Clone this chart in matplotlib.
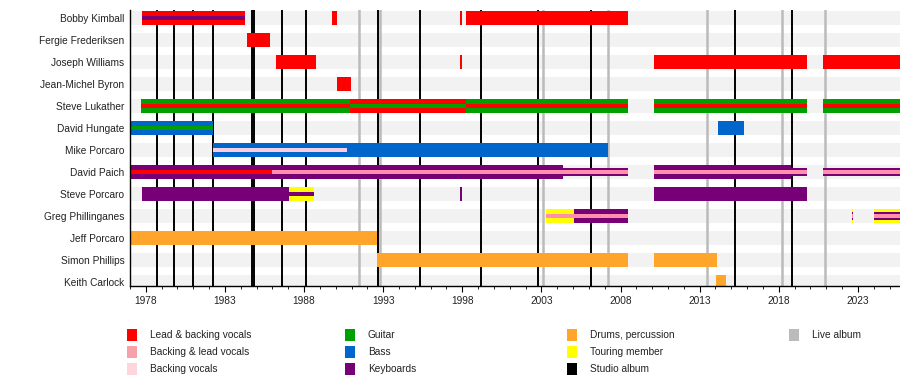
import matplotlib
matplotlib.use("Agg")
import matplotlib.pyplot as plt
from matplotlib.patches import Rectangle
from matplotlib.ticker import MultipleLocator

plt.rcParams['font.family'] = ['Liberation Sans', 'DejaVu Sans']

# band members, top to bottom
members = ["Bobby Kimball", "Fergie Frederiksen", "Joseph Williams", "Jean-Michel Byron",
           "Steve Lukather", "David Hungate", "Mike Porcaro", "David Paich",
           "Steve Porcaro", "Greg Phillinganes", "Jeff Porcaro", "Simon Phillips",
           "Keith Carlock"]

start_date = 1977.0
end_date = 2025.66

# album release dates (decimal years)
studio_albums = [1978.68, 1979.77, 1980.99, 1982.22, 1984.74, 1984.84, 1986.62, 1988.10,
                 1992.65, 1995.32, 1999.18, 2002.76, 2006.11, 2015.23, 2018.83]
live_albums = [1991.48, 1992.80, 2003.12, 2007.22, 2013.44, 2018.20, 2020.92]

# main roles: (member, start, end)
lead_vocals = [("Bobby Kimball", 1977.75, 1984.26), ("Bobby Kimball", 1989.76, 1990.05),
               ("Bobby Kimball", 1997.87, 1997.95), ("Bobby Kimball", 1998.23, 2008.45),
               ("Fergie Frederiksen", 1984.38, 1985.84),
               ("Joseph Williams", 1986.22, 1988.73), ("Joseph Williams", 1997.87, 1997.95),
               ("Joseph Williams", 2010.11, 2019.76), ("Joseph Williams", 2020.78, end_date),
               ("Jean-Michel Byron", 1990.07, 1990.94),
               ("Steve Lukather", 1990.90, 1998.23)]
guitar = [("Steve Lukather", 1977.68, 1990.90), ("Steve Lukather", 1998.23, 2008.45),
          ("Steve Lukather", 2010.11, 2019.76), ("Steve Lukather", 2020.78, end_date)]
bass = [("David Hungate", start_date, 1982.25), ("David Hungate", 2014.18, 2015.80),
        ("Mike Porcaro", 1982.25, 2007.22)]
keyboards = [("David Paich", start_date, 2004.34), ("David Paich", 2010.11, 2018.80),
             ("Steve Porcaro", 1977.75, 1987.02), ("Steve Porcaro", 1997.87, 1997.95),
             ("Steve Porcaro", 2010.11, 2019.76),
             ("Greg Phillinganes", 2005.05, 2008.45)]
drums = [("Jeff Porcaro", start_date, 1992.58), ("Simon Phillips", 1992.58, 2008.45),
         ("Simon Phillips", 2010.11, 2014.07), ("Keith Carlock", 2014.03, 2014.66)]
touring = [("Steve Porcaro", 1987.02, 1988.60), ("Greg Phillinganes", 2003.28, 2005.05),
           ("Greg Phillinganes", 2022.60, 2022.70), ("Greg Phillinganes", 2024.02, end_date)]

# non-touring keyboard periods
keyboards_studio = [("David Paich", 2004.34, 2008.45), ("David Paich", 2018.80, 2019.76),
                    ("David Paich", 2020.78, end_date),
                    ("Greg Phillinganes", 2022.60, 2022.70), ("Greg Phillinganes", 2024.02, end_date)]

# secondary roles
lead_vocals_2 = [("Steve Lukather", 1977.68, 1990.90), ("Steve Lukather", 1998.23, 2008.45),
                 ("Steve Lukather", 2010.11, 2019.76), ("Steve Lukather", 2020.78, end_date),
                 ("David Paich", start_date, 1986.00)]
backing_lead_2 = [("David Paich", 1986.00, 2008.45), ("David Paich", 2010.11, 2019.76),
                  ("David Paich", 2020.78, end_date),
                  ("Greg Phillinganes", 2003.28, 2008.45), ("Greg Phillinganes", 2022.60, 2022.70),
                  ("Greg Phillinganes", 2024.02, end_date)]
backing_2 = [("Mike Porcaro", 1982.25, 1990.69)]
guitar_2 = [("Steve Lukather", 1990.90, 1998.23), ("David Hungate", start_date, 1982.25)]
keyboards_2 = [("Bobby Kimball", 1977.75, 1984.26), ("Steve Porcaro", 1987.02, 1988.60)]

colors = {
    'lead': '#ff0000', 'backlead': '#ff8fab', 'back': '#f7cfe0',
    'guitar': '#00a000', 'bass': '#0066cc', 'keys': '#770077',
    'drums': '#ffa52c', 'touring': '#ffff00', 'studio': '#000000', 'live': '#bbbbbb',
}

fig = plt.figure(figsize=(9, 3.86), dpi=100)
ax = fig.add_axes([130 / 900, 100 / 386, 770 / 900, 276 / 386])


def draw(spans, color, h, z):
    for name, s, e in spans:
        ax.barh(members.index(name), e - s, left=s, height=h, color=color,
                linewidth=0, zorder=z)


# row backgrounds
for i in range(len(members)):
    ax.barh(i, end_date - start_date, left=start_date, height=0.64,
            color='#f2f2f2', linewidth=0, zorder=0)

for x in live_albums:
    ax.axvline(x, color=colors['live'], lw=1.8, zorder=1)
for x in studio_albums:
    ax.axvline(x, color=colors['studio'], lw=1.4, zorder=2)

FULL, NARROW, STRIPE = 0.64, 0.36, 0.2
draw(lead_vocals, colors['lead'], FULL, 3)
draw(guitar, colors['guitar'], FULL, 3)
draw(bass, colors['bass'], FULL, 3)
draw(keyboards, colors['keys'], FULL, 3)
draw(drums, colors['drums'], FULL, 3)
draw(touring, colors['touring'], FULL, 3)
draw(keyboards_studio, colors['keys'], NARROW, 4)
draw(lead_vocals_2, colors['lead'], STRIPE, 5)
draw(backing_lead_2, colors['backlead'], STRIPE, 5)
draw(backing_2, colors['back'], STRIPE, 5)
draw(guitar_2, colors['guitar'], STRIPE, 5)
draw(keyboards_2, colors['keys'], STRIPE, 5)

ax.set_xlim(start_date, end_date)
ax.set_ylim(12.18, -0.36)
ax.set_yticks(range(len(members)))
ax.set_yticklabels(members, fontsize=7.3, color='#222222')
ax.tick_params(axis='y', length=0, pad=4)
ax.xaxis.set_minor_locator(MultipleLocator(1))
ax.set_xticks(range(1978, 2026, 5))
ax.tick_params(axis='x', which='major', length=4, width=0.8, labelsize=7.3,
               labelcolor='#222222', pad=3)
ax.tick_params(axis='x', which='minor', length=2.5, width=0.6)
for side in ['top', 'right']:
    ax.spines[side].set_visible(False)
for side in ['left', 'bottom']:
    ax.spines[side].set_color('black')
    ax.spines[side].set_linewidth(1.0)
    ax.spines[side].set_zorder(6)

# legend
legend_cols = [
    [("Lead & backing vocals", colors['lead']), ("Backing & lead vocals", '#f7a2aa'),
     ("Backing vocals", '#fcd6dc')],
    [("Guitar", colors['guitar']), ("Bass", colors['bass']), ("Keyboards", colors['keys'])],
    [("Drums, percussion", colors['drums']), ("Touring member", colors['touring']),
     ("Studio album", colors['studio'])],
    [("Live album", colors['live'])],
]
col_x = [127, 345, 567, 789]
row_y = [335, 352, 369]
for cx, items in zip(col_x, legend_cols):
    for ry, (label, c) in zip(row_y, items):
        fig.add_artist(Rectangle((cx / 900, 1 - (ry + 6) / 386), 10 / 900, 12 / 386,
                                 transform=fig.transFigure, color=c, lw=0))
        fig.text((cx + 23) / 900, 1 - ry / 386, label, fontsize=7.3, va='center',
                 ha='left', color='#222222')

fig.savefig("out.png", dpi=100)
